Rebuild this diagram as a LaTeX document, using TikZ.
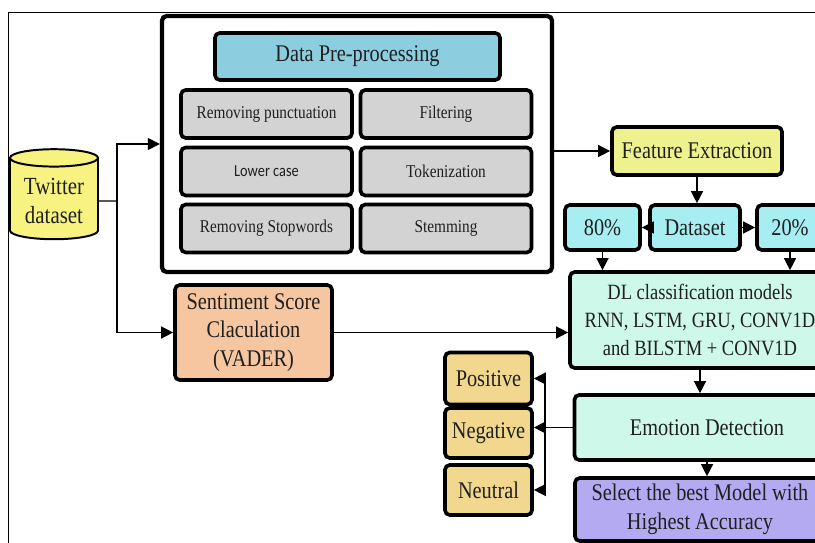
\documentclass[tikz,border=0pt]{standalone}
\usepackage{fontspec}
\setmainfont[FakeStretch=0.85]{Liberation Serif}
\newfontfamily\lcfont[FakeStretch=0.85]{Carlito}
\usepackage{xcolor}
\usepackage{tikz}
\usetikzlibrary{positioning,arrows.meta,shapes.geometric}
\definecolor{prepblue}{RGB}{140,206,224}
\definecolor{stepgrey}{RGB}{211,211,211}
\definecolor{tweetyellow}{RGB}{248,243,128}
\definecolor{featyellow}{RGB}{238,242,142}
\definecolor{splitcyan}{RGB}{166,238,242}
\definecolor{modelmint}{RGB}{206,248,234}
\definecolor{bestviolet}{RGB}{180,170,242}
\definecolor{labelsand}{RGB}{242,216,142}
\definecolor{vaderpeach}{RGB}{245,198,160}
\tikzset{
box/.style={
draw,
line width=2.6pt,
rounded corners=1.2mm,
align=center,
inner sep=2pt,
text=black!88,
font=\fontsize{17}{20.5}\selectfont
},
outerbox/.style={
box,
line width=3pt,
minimum width=9.75cm,
minimum height=6.4cm
},
stepbox/.style={
box,
fill=stepgrey,
minimum width=4.275cm,
minimum height=1.2cm,
font=\fontsize{12.8}{15}\selectfont
},
splitbox/.style={
box,
fill=splitcyan,
minimum height=1.125cm
},
labelbox/.style={
box,
fill=labelsand,
minimum width=2.175cm,
minimum height=1.3cm
},
arrow/.style={
-{Triangle[length=3mm,width=3mm]},
line width=1pt
}
}
\begin{document}
\begin{tikzpicture}[x=0.025cm,y=-0.025cm]
\useasboundingbox (0,0) rectangle (815,543);
\clip (0,0) rectangle (815,543);
\draw[line width=0.7pt] (8,543) |- (815,12);

% pre-processing block
\node[outerbox](prep) at (357,144){};
\node[box,fill=prepblue,minimum width=7.125cm,minimum height=1.175cm](dpp) at (357.5,56.5){Data Pre-processing};
\node[stepbox](punct) at (266.5,114){Removing punctuation};
\node[stepbox](filt) at (446,114){Filtering};
\node[stepbox](lower) at (266.5,171.5){\lcfont\fontsize{12}{14}\selectfont Lower case};
\node[stepbox](token) at (446,171.5){Tokenization};
\node[stepbox](stop) at (266.5,228.5){Removing Stopwords};
\node[stepbox](stem) at (446,228.5){Stemming};

% input and scoring
\node[cylinder,shape border rotate=90,aspect=0.25,draw,line width=1.4pt,fill=tweetyellow,
minimum height=2.25cm,minimum width=2.2cm,align=center,text=black!88,
font=\fontsize{17.5}{21}\selectfont](tweets) at (54,201){Twitter\\dataset};
\node[box,fill=vaderpeach,minimum width=3.925cm,minimum height=2.375cm](vader) at (253.5,332.5){Sentiment Score\\Claculation\\(VADER)};

% right column
\node[box,fill=featyellow,minimum width=4.25cm,minimum height=1.2cm](feat) at (697,151){Feature Extraction};
\node[splitbox,minimum width=2.25cm](data) at (695,227.5){Dataset};
\node[splitbox,minimum width=1.875cm](p80) at (602.5,227.5){80\%};
\node[splitbox,minimum width=1.65cm](p20) at (790,227.5){20\%};
\node[box,fill=modelmint,minimum width=6.5cm,minimum height=2.4cm,
font=\fontsize{15.5}{20}\selectfont](dl) at (700,320){DL classification models\\RNN, LSTM, GRU, CONV1D\\and BILSTM + CONV1D};
\node[box,fill=modelmint,minimum width=6.625cm,minimum height=1.625cm](emo) at (707,427.5){Emotion Detection};
\node[box,fill=bestviolet,minimum width=6.25cm,minimum height=1.575cm](best) at (700,509.5){Select the best Model with\\Highest Accuracy};
\node[labelbox](pos) at (488.5,378.5){Positive};
\node[labelbox,minimum height=1.25cm](neg) at (488.5,433){Negative};
\node[labelbox,minimum height=1.25cm](neu) at (488.5,490){Neutral};

% connectors
\coordinate(fork) at (117,201);
\coordinate(bus) at (545,427.5);
\draw[line width=1pt](tweets.east)--(fork);
\draw[arrow](fork)|-(prep.west);
\draw[arrow](fork)|-(vader.west);
\draw[arrow](prep.east|-feat.west)--(feat.west);
\draw[arrow](vader.east)--(vader.east-|dl.west);
\draw[arrow](data.west)--(p80.east);
\draw[arrow](data.east)--(p20.west);
\foreach \x/\y in {feat/data,p80/dl,p20/dl,dl/emo,emo/best}
\draw[arrow](\x.south)--(\x.south|-\y.north);
\draw[arrow](emo.west)--(emo.west-|neg.east);
\foreach \x in {pos,neu}
\draw[arrow](bus)|-(\x.east);
\end{tikzpicture}
\end{document}
